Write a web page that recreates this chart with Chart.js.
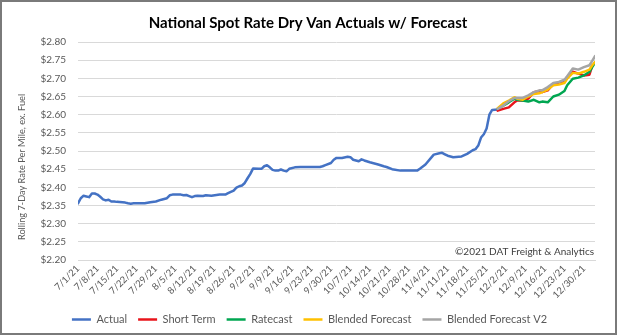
<!DOCTYPE html>
<html>
<head>
<meta charset="utf-8">
<script src="https://cdn.jsdelivr.net/npm/chart.js@4.4.1/dist/chart.umd.min.js"></script>
<style>
  html, body { margin: 0; padding: 0; background: #fff; }
  #wrap { position: relative; width: 618px; height: 335px; }
  #frame { position: absolute; left: 0; top: 0; width: 613px; height: 331px; border: 2px solid #7a7a7a; pointer-events: none; }
  canvas { position: absolute; left: 0; top: 0; }
</style>
</head>
<body>
<div id="wrap">
  <canvas id="chart" width="618" height="335"></canvas>
  <div id="frame"></div>
</div>
<script>
// x values are days counted from 7/1/21
const tickDays = [0, 7, 14, 21, 28, 35, 42, 49, 56, 63, 70, 77, 84, 91, 98, 105, 112, 119, 126, 133, 140, 147, 154, 161, 168, 175, 182];
const tickLabels = ['7/1/21', '7/8/21', '7/15/21', '7/22/21', '7/29/21', '8/5/21', '8/12/21', '8/19/21', '8/26/21',
  '9/2/21', '9/9/21', '9/16/21', '9/23/21', '9/30/21', '10/7/21', '10/14/21', '10/21/21', '10/28/21',
  '11/4/21', '11/11/21', '11/18/21', '11/25/21', '12/2/21', '12/9/21', '12/16/21', '12/23/21', '12/30/21'];

const actualDays = [0, 1, 2, 3, 4, 5, 6, 7, 8, 9, 10, 11, 12, 13, 14, 17, 18, 19, 20, 24, 26, 28, 30, 32, 33, 34,
  37, 38, 39, 40, 41, 42, 43, 45, 46, 48, 51, 53, 54, 56, 57, 58, 59, 60, 61, 62, 63, 65, 66, 67, 68, 69, 70,
  71, 72, 73, 74, 75, 76, 78, 80, 87, 88, 89, 91, 92, 93, 95, 97, 98, 99, 101, 102, 103, 105, 108, 110, 111,
  113, 116, 122, 123, 125, 127, 128, 130, 131, 132, 133, 135, 138, 140, 142, 143, 144, 145, 146, 147, 148, 149, 151];
const actualRates = [2.356, 2.370, 2.377, 2.375, 2.373, 2.383, 2.383, 2.380, 2.374, 2.367, 2.364, 2.366, 2.361, 2.361,
  2.360, 2.358, 2.356, 2.355, 2.356, 2.356, 2.359, 2.361, 2.366, 2.370, 2.378, 2.380,
  2.380, 2.378, 2.379, 2.376, 2.373, 2.376, 2.377, 2.376, 2.378, 2.377, 2.380, 2.380, 2.384, 2.391, 2.399, 2.403,
  2.405, 2.412, 2.425, 2.437, 2.452, 2.451, 2.451, 2.458, 2.461, 2.455, 2.448,
  2.446, 2.446, 2.449, 2.446, 2.444, 2.451, 2.455, 2.456, 2.456, 2.458, 2.461, 2.467, 2.476, 2.481, 2.481, 2.484,
  2.483, 2.476, 2.472, 2.477, 2.474, 2.469, 2.463, 2.458, 2.456,
  2.450, 2.446, 2.446, 2.451, 2.463, 2.481, 2.490, 2.494, 2.495, 2.491, 2.487, 2.483, 2.485, 2.492, 2.502, 2.505,
  2.515, 2.537, 2.546, 2.562, 2.600, 2.613, 2.614];

const forecastDays = [151, 153, 155, 157, 158, 160, 162, 164, 166, 167, 169, 171, 173, 175, 176, 178, 180, 182, 184, 185, 186];
const shortTerm = [2.611, 2.616, 2.620, 2.634, 2.639, 2.639, 2.644, 2.662, 2.665, 2.662, 2.667, 2.685, 2.687, 2.690,
  2.704, 2.718, 2.713, 2.708, 2.710, 2.735, null];
const ratecast = [2.617, 2.625, 2.634, 2.644, 2.641, 2.639, 2.636, 2.641, 2.634, 2.636, 2.634, 2.650, 2.655, 2.665,
  2.681, 2.699, 2.702, 2.708, 2.718, 2.731, 2.743];
const blended = [2.618, 2.631, 2.639, 2.648, 2.644, 2.641, 2.650, 2.657, 2.659, 2.662, 2.669, 2.681, 2.683, 2.687,
  2.699, 2.715, 2.713, 2.718, 2.724, 2.736, 2.745];
const blendedV2 = [2.616, 2.625, 2.637, 2.646, 2.646, 2.646, 2.653, 2.662, 2.667, 2.667, 2.676, 2.687, 2.690, 2.696,
  2.706, 2.727, 2.724, 2.731, 2.736, 2.748, 2.761];

const FONT = 'Lato, "Liberation Sans", sans-serif';

function pts(xs, ys) {
  return xs.map((x, i) => ({ x: x, y: ys[i] }));
}

function series(label, color, xs, ys, order) {
  return {
    label: label,
    data: pts(xs, ys),
    borderColor: color,
    backgroundColor: color,
    borderWidth: 2.5,
    pointRadius: 0,
    pointHoverRadius: 0,
    tension: 0,
    borderJoinStyle: 'round',
    borderCapStyle: 'round',
    spanGaps: false,
    order: order
  };
}

// Title, axis title and footnote text
const textPlugin = {
  id: 'chartText',
  afterDraw(chart) {
    const ctx = chart.ctx;
    ctx.save();
    ctx.fillStyle = '#000';
    ctx.font = 'bold 15px ' + FONT;
    ctx.textAlign = 'center';
    ctx.textBaseline = 'middle';
    ctx.fillText('National Spot Rate Dry Van Actuals w/ Forecast', 308, 23);

    ctx.fillStyle = '#595959';
    ctx.font = '9.2px ' + FONT;
    ctx.translate(22, 167);
    ctx.rotate(-Math.PI / 2);
    ctx.fillText('Rolling 7-Day Rate Per Mile, ex. Fuel', 0, 0);
    ctx.restore();

    ctx.save();
    ctx.fillStyle = '#404040';
    ctx.font = '10px ' + FONT;
    ctx.textAlign = 'right';
    ctx.textBaseline = 'alphabetic';
    ctx.fillText('\u00A92021 DAT Freight & Analytics', 594, 255);
    ctx.restore();
  }
};

// shift the legend row to sit under the plot
const legendShift = {
  id: 'legendShift',
  afterLayout(chart) {
    if (chart.legend) {
      chart.legend.left += 12;
      chart.legend.right += 12;
    }
  }
};

new Chart(document.getElementById('chart'), {
  type: 'line',
  data: {
    datasets: [
      series('Actual', '#4472C4', actualDays, actualRates, 4),
      series('Short Term', '#E8141B', forecastDays, shortTerm, 3),
      series('Ratecast', '#00A651', forecastDays, ratecast, 2),
      series('Blended Forecast', '#FFC000', forecastDays, blended, 1),
      series('Blended Forecast V2', '#A5A5A5', forecastDays, blendedV2, 0)
    ]
  },
  options: {
    responsive: false,
    devicePixelRatio: 1,
    animation: false,
    events: [],
    layout: { padding: { top: 42, right: 23, bottom: 0, left: 0 } },
    plugins: {
      title: { display: false },
      tooltip: { enabled: false },
      legend: {
        position: 'bottom',
        labels: {
          usePointStyle: true,
          pointStyle: 'line',
          pointStyleWidth: 19,
          padding: 11,
          color: '#595959',
          font: { family: FONT, size: 11 },
          sort: (a, b) => a.datasetIndex - b.datasetIndex
        }
      }
    },
    scales: {
      x: {
        type: 'linear',
        min: 0,
        max: 186,
        afterBuildTicks(scale) {
          scale.ticks = tickDays.map(v => ({ value: v }));
        },
        afterFit(scale) { scale.height = 43; },
        ticks: {
          autoSkip: false,
          minRotation: 45,
          maxRotation: 45,
          padding: 3,
          color: '#595959',
          font: { family: FONT, size: 9.5 },
          callback(value) {
            const i = tickDays.indexOf(value);
            return i >= 0 ? tickLabels[i] : '';
          }
        },
        grid: { display: false, drawTicks: false },
        border: { display: true, color: '#d9d9d9' }
      },
      y: {
        min: 2.2,
        max: 2.8,
        afterFit(scale) { scale.width = 78; },
        ticks: {
          stepSize: 0.05,
          padding: 12,
          color: '#595959',
          font: { family: FONT, size: 10 },
          callback: v => '$' + Number(v).toFixed(2)
        },
        grid: { color: '#d9d9d9', lineWidth: 1, drawTicks: false },
        border: { display: false }
      }
    }
  },
  plugins: [textPlugin, legendShift]
});
</script>
</body>
</html>
